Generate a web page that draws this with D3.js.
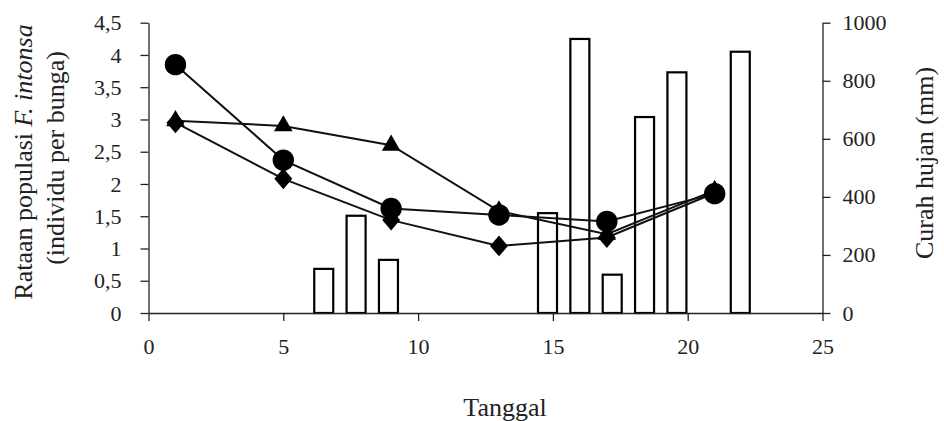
<!DOCTYPE html>
<html>
<head>
<meta charset="utf-8">
<script src="https://cdn.jsdelivr.net/npm/d3@7"></script>
<style>
  body { margin: 0; background: #fff; }
  text { font-family: "Liberation Serif", "Times New Roman", serif; fill: #222; }
</style>
</head>
<body>
<svg id="svg"></svg>
<script>
const width = 944, height = 421;

// days when population was sampled
const days = [1, 5, 9, 13, 17, 21];
const circleSeries = [3.85, 2.37, 1.62, 1.52, 1.42, 1.85];
const triangleSeries = [2.98, 2.9, 2.6, 1.58, 1.22, 1.9];
const diamondSeries = [2.95, 2.08, 1.44, 1.04, 1.17, 1.86];

// rainfall bars
const rainDays = [6.5, 7.7, 8.9, 14.8, 16.0, 17.2, 18.4, 19.6, 21.95];
const rainfall = [152, 335, 183, 344, 944, 132, 675, 829, 900];

const xTicks = [0, 5, 10, 15, 20, 25];
const leftTicks = [0, 0.5, 1, 1.5, 2, 2.5, 3, 3.5, 4, 4.5];
const rightTicks = [0, 200, 400, 600, 800, 1000];

const plotLeft = 148.5, plotRight = 822.5, plotTop = 22.7, plotBottom = 313;

const x = d3.scaleLinear().domain([0, 25]).range([plotLeft, plotRight]);
const yL = d3.scaleLinear().domain([0, 4.5]).range([plotBottom, plotTop]);
const yR = d3.scaleLinear().domain([0, 1000]).range([plotBottom, plotTop]);

const svg = d3.select("#svg").attr("width", width).attr("height", height);

const comma = d => String(d).replace(".", ",");

// bars
const barW = 19;
svg.append("g")
    .selectAll("rect")
    .data(rainDays.map((d, i) => ({day: d, value: rainfall[i]})))
    .join("rect")
    .attr("x", d => x(d.day) - barW / 2)
    .attr("y", d => yR(d.value))
    .attr("width", barW)
    .attr("height", d => yR(0) - yR(d.value))
    .attr("fill", "#fff")
    .attr("stroke", "#000")
    .attr("stroke-width", 2.2);

// axes
const xAxis = svg.append("g")
    .attr("transform", `translate(0, ${plotBottom})`)
    .call(d3.axisBottom(x).tickValues(xTicks).tickSize(8).tickSizeOuter(0).tickPadding(17));

const leftAxis = svg.append("g")
    .attr("transform", `translate(${plotLeft}, 0)`)
    .call(d3.axisLeft(yL).tickValues(leftTicks).tickFormat(comma).tickSize(8).tickSizeOuter(0).tickPadding(19));

const rightAxis = svg.append("g")
    .attr("transform", `translate(${plotRight}, 0)`)
    .call(d3.axisRight(yR).tickValues(rightTicks).tickFormat(d3.format("d")).tickSize(8).tickSizeOuter(0).tickPadding(12));

[xAxis, leftAxis, rightAxis].forEach(a => {
    a.selectAll("path, line").attr("stroke", "#222").attr("stroke-width", 1.3);
    a.selectAll("text")
        .attr("font-size", 22)
        .attr("font-family", '"Liberation Serif", "Times New Roman", serif')
        .attr("fill", "#222");
});

// lines + markers
const lineGen = d3.line().x(d => x(d[0])).y(d => yL(d[1]));

const diamondType = {
    draw(ctx, size) {
        const w = Math.sqrt(size) / 2, h = w * 1.17;
        ctx.moveTo(0, -h);
        ctx.lineTo(w, 0);
        ctx.lineTo(0, h);
        ctx.lineTo(-w, 0);
        ctx.closePath();
    }
};

const series = [
    {values: triangleSeries, symbol: d3.symbol(d3.symbolTriangle, 150)},
    {values: diamondSeries, symbol: d3.symbol(diamondType, 320)},
    {values: circleSeries, symbol: d3.symbol(d3.symbolCircle, 360)}
];

series.forEach(s => {
    const pts = days.map((d, i) => [d, s.values[i]]);
    svg.append("path")
        .datum(pts)
        .attr("d", lineGen)
        .attr("fill", "none")
        .attr("stroke", "#111")
        .attr("stroke-width", 2);
});

series.forEach(s => {
    const pts = days.map((d, i) => [d, s.values[i]]);
    svg.append("g")
        .selectAll("path")
        .data(pts)
        .join("path")
        .attr("d", s.symbol)
        .attr("transform", d => `translate(${x(d[0])}, ${yL(d[1])})`)
        .attr("fill", "#000");
});

// axis titles
svg.append("text")
    .attr("x", 505)
    .attr("y", 416)
    .attr("text-anchor", "middle")
    .attr("font-size", 26)
    .text("Tanggal");

const t1 = svg.append("text")
    .attr("transform", "translate(32, 162) rotate(-90)")
    .attr("text-anchor", "middle")
    .attr("font-size", 26);
t1.append("tspan").text("Rataan populasi ");
t1.append("tspan").attr("font-style", "italic").text("F. intonsa");

svg.append("text")
    .attr("transform", "translate(64, 158) rotate(-90)")
    .attr("text-anchor", "middle")
    .attr("font-size", 26)
    .text("(individu per bunga)");

svg.append("text")
    .attr("transform", "translate(933, 163) rotate(-90)")
    .attr("text-anchor", "middle")
    .attr("font-size", 26)
    .text("Curah hujan (mm)");
</script>
</body>
</html>
